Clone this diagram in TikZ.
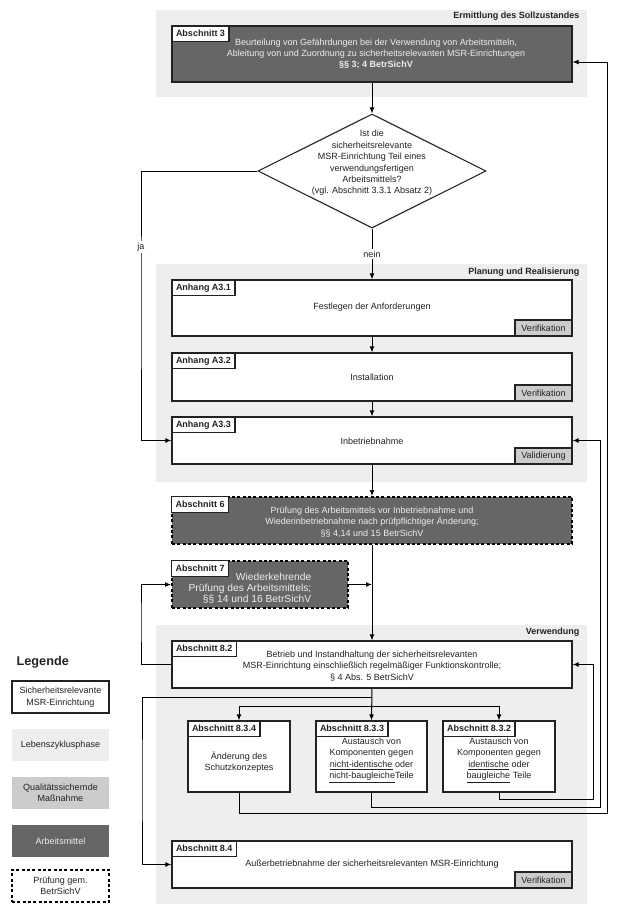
\documentclass[tikz,border=0pt]{standalone}
\usepackage{fontspec}
\setmainfont{Liberation Sans}
\usetikzlibrary{arrows.meta,fit,calc,shapes.geometric}
\definecolor{phase}{HTML}{EEEEEE}
\definecolor{qs}{HTML}{CCCCCC}
\definecolor{am}{HTML}{666666}
\definecolor{ink}{HTML}{222222}
\begin{document}
\begin{tikzpicture}[x=0.75pt,y=-0.75pt,
  every node/.style={font=\fontsize{6.75}{8.5}\selectfont, text=ink},
  phasebg/.style={fill=phase, draw=none, inner sep=0pt},
  phasetitle/.style={anchor=east, font=\bfseries\fontsize{6.75}{8.5}\selectfont},
  msr/.style={draw=ink, line width=0.8pt, fill=white, inner sep=0pt},
  amb/.style={draw=ink, line width=0.8pt, fill=am, inner sep=0pt},
  pruefline/.style={draw=black, line width=1.4pt, dash pattern=on 2.2pt off 1.8pt, inner sep=0pt},
  pruef/.style={pruefline, fill=am},
  tag/.style={anchor=north west, draw=ink, line width=0.8pt, fill=white, minimum height=11.6pt, inner xsep=3pt, inner ysep=0pt, font=\bfseries\fontsize{6.75}{8.5}\selectfont},
  qsbox/.style={anchor=south east, draw=ink, line width=0.8pt, fill=qs, minimum width=42.75pt, minimum height=12pt, inner sep=0pt},
  lighttext/.style={text=phase},
  conn/.style={draw=black, line width=0.75pt, -{Latex[length=4.5pt,width=3.6pt]}},
  plain/.style={draw=black, line width=0.75pt},
  lbl/.style={fill=white, inner sep=1pt},
]
\useasboundingbox (0,0) rectangle (632,908);
\fill[white] (0,0) rectangle (632,908);

% phases
\node[phasebg, fit={(156,10)(587,97)}] (r1) {};
\node[phasetitle] (r1t) at (584,16.5) {Ermittlung des Sollzustandes};
\node[phasebg, fit={(156,264)(587,482)}] (r2) {};
\node[phasetitle] (r2t) at (584,272) {Planung und Realisierung};
\node[phasebg, fit={(156,625)(587,904)}] (r3) {};
\node[phasetitle] (r3t) at (584,632) {Verwendung};

% Abschnitt 3
\node[amb, fit={(172,26)(572,82)}] (s3) {};
\node[tag] (s3l) at (s3.north west) {Abschnitt 3};
\node[lighttext, align=center] (s3t) at (376,54) {Beurteilung von Gefährdungen bei der Verwendung von Arbeitsmitteln,\\Ableitung von und Zuordnung zu sicherheitsrelevanten MSR-Einrichtungen\\\textbf{§§ 3; 4 BetrSichV}};

% decision
\node[draw=ink, line width=0.8pt, diamond, minimum width=171pt, minimum height=85.5pt, inner sep=0pt, fill=white] (d) at (372,171) {};
\node[align=center, font=\fontsize{6.75}{8.6}\selectfont] (dt) at (372,163) {Ist die\\sicherheitsrelevante\\MSR-Einrichtung Teil eines\\verwendungsfertigen\\Arbeitsmittels?\\(vgl. Abschnitt 3.3.1 Absatz 2)};

% Anhang A3.1
\node[msr, fit={(172,280)(572,336)}] (a31) {};
\node[tag] (a31l) at (a31.north west) {Anhang A3.1};
\node (a31t) at (372,307) {Festlegen der Anforderungen};
\node[qsbox] (a31v) at (a31.south east) {Verifikation};

% Anhang A3.2
\node[msr, fit={(172,353)(572,401)}] (a32) {};
\node[tag] (a32l) at (a32.north west) {Anhang A3.2};
\node (a32t) at (372,377) {Installation};
\node[qsbox] (a32v) at (a32.south east) {Verifikation};

% Anhang A3.3
\node[msr, fit={(172,417)(572,464)}] (a33) {};
\node[tag] (a33l) at (a33.north west) {Anhang A3.3};
\node (a33t) at (372,441) {Inbetriebnahme};
\node[qsbox] (a33v) at (a33.south east) {Validierung};

% Abschnitt 6
\node[pruef, fit={(172,497)(572,544)}] (s6) {};
\node[tag] (s6l) at (s6.north west) {Abschnitt 6};
\node[lighttext, align=center] (s6t) at (372,522) {Prüfung des Arbeitsmittels vor Inbetriebnahme und\\Wiederinbetriebnahme nach prüfpflichtiger Änderung;\\§§ 4,14 und 15 BetrSichV};

% Abschnitt 7
\node[pruef, fit={(172,561)(348,608)}] (s7) {};
\node[tag] (s7l) at (s7.north west) {Abschnitt 7};
\node[lighttext, align=right, anchor=east, font=\fontsize{7.7}{8.3}\selectfont] (s7t) at (316,588) {Wiederkehrende\\Prüfung des Arbeitsmittels;\\§§ 14 und 16 BetrSichV};

% Abschnitt 8.2
\node[msr, fit={(172,641)(572,688)}] (s82) {};
\node[tag] (s82l) at (s82.north west) {Abschnitt 8.2};
\node[align=center] (s82t) at (372,666) {Betrieb und Instandhaltung der sicherheitsrelevanten\\MSR-Einrichtung einschließlich regelmäßiger Funktionskontrolle;\\§ 4 Abs. 5 BetrSichV};

% Abschnitt 8.3.x
\node[msr, fit={(188,721)(290,792)}] (s834) {};
\node[tag] (s834l) at (s834.north west) {Abschnitt 8.3.4};
\node[align=center] (s834t) at (239,762) {Änderung des\\Schutzkonzeptes};

\node[msr, fit={(316,721)(427,792)}] (s833) {};
\node[tag] (s833l) at (s833.north west) {Abschnitt 8.3.3};
\node[align=center, font=\fontsize{6.75}{8.4}\selectfont] (s833t) at (371.5,760.5) {Austausch von\\Komponenten gegen\\\underline{nicht-identische} oder\\\underline{nicht-baugleiche}Teile};

\node[msr, fit={(443,721)(555,792)}] (s832) {};
\node[tag] (s832l) at (s832.north west) {Abschnitt 8.3.2};
\node[align=center, font=\fontsize{6.75}{8.4}\selectfont] (s832t) at (499,760.5) {Austausch von\\Komponenten gegen\\\underline{identische} oder\\\underline{baugleiche} Teile};

% Abschnitt 8.4
\node[msr, fit={(172,841)(572,888)}] (s84) {};
\node[tag] (s84l) at (s84.north west) {Abschnitt 8.4};
\node (s84t) at (372,864) {Außerbetriebnahme der sicherheitsrelevanten MSR-Einrichtung};
\node[qsbox] (s84v) at (s84.south east) {Verifikation};

% connectors
\coordinate (jaK) at (141,300);
\coordinate (lp) at (141,620);
\coordinate (j1) at (372,697);
\coordinate (j2) at (372,706);
\coordinate (lp2) at (142,780);
\coordinate (rb1) at (593,799);
\coordinate (rb2) at (600,807);
\coordinate (rb3) at (607,813);
\coordinate (s3in) at ([yshift=-6pt]s3.east);

\draw[conn] (s3.south) -- (d.north);
\draw[conn] (d.west) -| (jaK) |- (a33.west);
\node[lbl] (ja) at (141,247) {ja};
\draw[conn] (d.south) -- (a31.north);
\node[lbl] (nein) at (372,254) {nein};
\draw[conn] (a31.south) -- (a32.north);
\draw[conn] (a32.south) -- (a33.north);
\draw[conn] (a33.south) -- (s6.north);
\draw[conn] (s6.south) -- (s82.north);
\draw[conn] (s7.east) -- (s7.east -| s6.south);
\draw[conn] (s82.west) -| (lp) |- (s7.west);
\draw[conn] (s82.south) -- (s833.north);
\draw[conn] (j1) -| (lp2) |- (s84.west);
\draw[conn] (j2) -| (s834.north);
\draw[conn] (j2) -| (s832.north);
\draw[conn] (s832.south) |- (rb1) |- (s82.east);
\draw[conn] (s833.south) |- (rb2) |- (a33.east);
\draw[conn] (s834.south) |- (rb3) |- (s3in);

% legend
\node[anchor=west, font=\bfseries\fontsize{9.5}{11}\selectfont] (leg) at (12,662) {Legende};
\node[msr, fit={(12,681)(109,713)}] (l1) {};
\node[align=center] (l1t) at (l1.center) {Sicherheitsrelevante\\MSR-Einrichtung};
\node[phasebg, fit={(12,729)(109,761)}] (l2) {};
\node (l2t) at (l2.center) {Lebenszyklusphase};
\node[fill=qs, inner sep=0pt, fit={(12,777)(109,809)}] (l3) {};
\node[align=center] (l3t) at (l3.center) {Qualitätssichernde\\Maßnahme};
\node[fill=am, inner sep=0pt, fit={(12,825)(109,857)}] (l4) {};
\node[lighttext] (l4t) at (l4.center) {Arbeitsmittel};
\node[pruefline, fill=white, fit={(12,870)(109,902)}] (l5) {};
\node[align=center] (l5t) at (l5.center) {Prüfung gem.\\BetrSichV};
\end{tikzpicture}
\end{document}
